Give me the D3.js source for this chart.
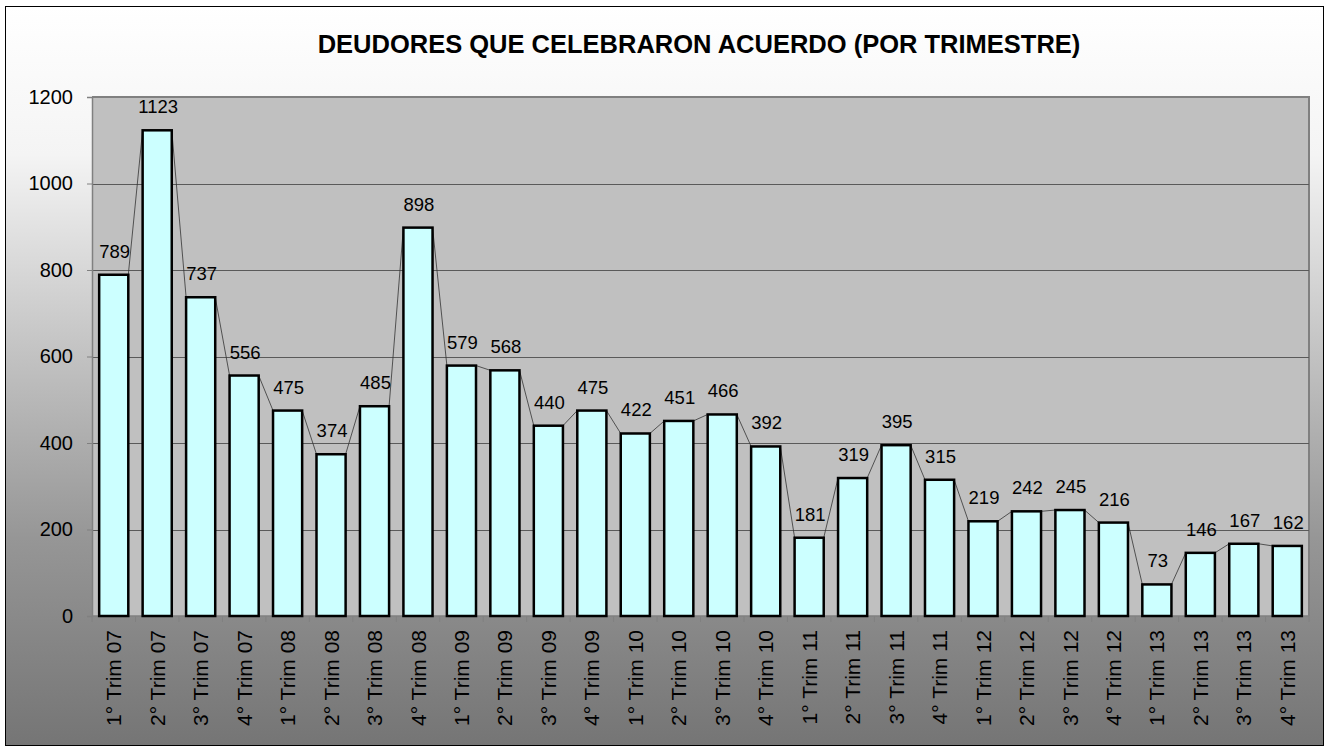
<!DOCTYPE html>
<html>
<head>
<meta charset="utf-8">
<script src="https://cdn.jsdelivr.net/npm/d3@7"></script>
<style>
  body { margin: 0; background: #ffffff; }
  svg text { font-family: Arial, "Liberation Sans", sans-serif; }
</style>
</head>
<body>
<script>
(function() {
    'use strict';

    var title = "DEUDORES QUE CELEBRARON ACUERDO (POR TRIMESTRE)";

    var quarters = ["1°", "2°", "3°", "4°"];
    var years = ["07", "08", "09", "10", "11", "12", "13"];
    var categories = [];
    years.forEach(function(y) {
        quarters.forEach(function(q) {
            categories.push(q + " Trim " + y);
        });
    });

    var values = [789, 1123, 737, 556, 475, 374, 485, 898,
                  579, 568, 440, 475, 422, 451, 466, 392,
                  181, 319, 395, 315, 219, 242, 245, 216,
                  73, 146, 167, 162];

    var yTicks = [0, 200, 400, 600, 800, 1000, 1200];

    var W = 1327, H = 751;
    var m = {left: 92, top: 97, right: 1309, bottom: 616};

    var svg = d3.select("body").append("svg")
                .attr("width", W)
                .attr("height", H);

    var defs = svg.append("defs");
    var grad = defs.append("linearGradient")
                   .attr("id", "bg")
                   .attr("x1", 0).attr("y1", 0)
                   .attr("x2", 0).attr("y2", 1);
    grad.append("stop").attr("offset", "0%").attr("stop-color", "#ffffff");
    grad.append("stop").attr("offset", "20%").attr("stop-color", "#f4f4f4");
    grad.append("stop").attr("offset", "45%").attr("stop-color", "#c6c6c6");
    grad.append("stop").attr("offset", "72%").attr("stop-color", "#969696");
    grad.append("stop").attr("offset", "100%").attr("stop-color", "#757575");

    // outer chart frame
    svg.append("rect")
       .attr("x", 5.5).attr("y", 6.5)
       .attr("width", 1318).attr("height", 739)
       .attr("fill", "url(#bg)")
       .attr("stroke", "#000")
       .attr("stroke-width", 1);

    svg.append("text")
       .attr("x", 699).attr("y", 53)
       .attr("text-anchor", "middle")
       .attr("font-size", 25.5)
       .attr("font-weight", "bold")
       .attr("fill", "#000")
       .text(title);

    var x = d3.scaleBand()
              .domain(categories)
              .range([m.left, m.right])
              .paddingInner(0.33)
              .paddingOuter(0.165);

    var y = d3.scaleLinear()
              .domain([0, 1200])
              .range([m.bottom, m.top]);

    // plot area
    svg.append("rect")
       .attr("x", m.left).attr("y", m.top)
       .attr("width", m.right - m.left)
       .attr("height", m.bottom - m.top)
       .attr("fill", "#c0c0c0");

    svg.append("path")
       .attr("d", "M" + m.left + "," + m.top + "H" + m.right + "V" + m.bottom)
       .attr("fill", "none")
       .attr("stroke", "#808080")
       .attr("stroke-width", 2);

    // gridlines
    svg.append("g")
       .selectAll("line")
       .data(yTicks.filter(function(d) { return d > 0 && d < 1200; }))
       .enter()
       .append("line")
       .attr("x1", m.left).attr("x2", m.right)
       .attr("y1", function(d) { return Math.round(y(d)) + 0.5; })
       .attr("y2", function(d) { return Math.round(y(d)) + 0.5; })
       .attr("stroke", "#5a5a5a")
       .attr("stroke-width", 1);

    // y axis
    var yAxis = svg.append("g")
       .attr("transform", "translate(" + m.left + ",0)")
       .call(d3.axisLeft(y).tickValues(yTicks).tickFormat(d3.format("d"))
               .tickSize(5).tickPadding(14));
    yAxis.select(".domain").attr("stroke", "#808080").attr("stroke-width", 1.5);
    yAxis.selectAll(".tick line").attr("stroke", "#808080");
    yAxis.selectAll(".tick text")
         .attr("font-size", 20)
         .attr("fill", "#000")
         .attr("font-family", "Arial, 'Liberation Sans', sans-serif");

    // x axis: ticks between categories
    var bounds = d3.range(categories.length + 1).map(function(i) {
        return m.left + i * (m.right - m.left) / categories.length;
    });
    svg.append("line")
       .attr("x1", m.left).attr("x2", m.right)
       .attr("y1", m.bottom).attr("y2", m.bottom)
       .attr("stroke", "#808080").attr("stroke-width", 1.5);
    svg.append("g").selectAll("line")
       .data(bounds)
       .enter()
       .append("line")
       .attr("x1", function(d) { return d; })
       .attr("x2", function(d) { return d; })
       .attr("y1", m.bottom).attr("y2", m.bottom + 6)
       .attr("stroke", "#808080");

    svg.append("g").selectAll("text")
       .data(categories)
       .enter()
       .append("text")
       .attr("transform", function(d) {
           return "translate(" + (x(d) + x.bandwidth() / 2) + "," + (m.bottom + 14) + ") rotate(-90)";
       })
       .attr("text-anchor", "end")
       .attr("dy", "0.36em")
       .attr("font-size", 21)
       .attr("fill", "#000")
       .text(function(d) { return d; });

    // series lines between bar tops
    var links = d3.range(values.length - 1);
    svg.append("g").selectAll("line")
       .data(links)
       .enter()
       .append("line")
       .attr("x1", function(i) { return x(categories[i]) + x.bandwidth(); })
       .attr("y1", function(i) { return y(values[i]); })
       .attr("x2", function(i) { return x(categories[i + 1]); })
       .attr("y2", function(i) { return y(values[i + 1]); })
       .attr("stroke", "#333")
       .attr("stroke-width", 0.8);

    // bars
    svg.append("g").selectAll("rect")
       .data(values)
       .enter()
       .append("rect")
       .attr("x", function(d, i) { return x(categories[i]); })
       .attr("y", function(d) { return y(d); })
       .attr("width", x.bandwidth())
       .attr("height", function(d) { return y(0) - y(d); })
       .attr("fill", "#ccffff")
       .attr("stroke", "#000")
       .attr("stroke-width", 2.5);

    // value labels
    svg.append("g").selectAll("text")
       .data(values)
       .enter()
       .append("text")
       .attr("x", function(d, i) { return x(categories[i]) + x.bandwidth() / 2 + 1; })
       .attr("y", function(d) { return y(d) - 17; })
       .attr("text-anchor", "middle")
       .attr("font-size", 18.5)
       .attr("fill", "#000")
       .text(function(d) { return d; });
}());
</script>
</body>
</html>
